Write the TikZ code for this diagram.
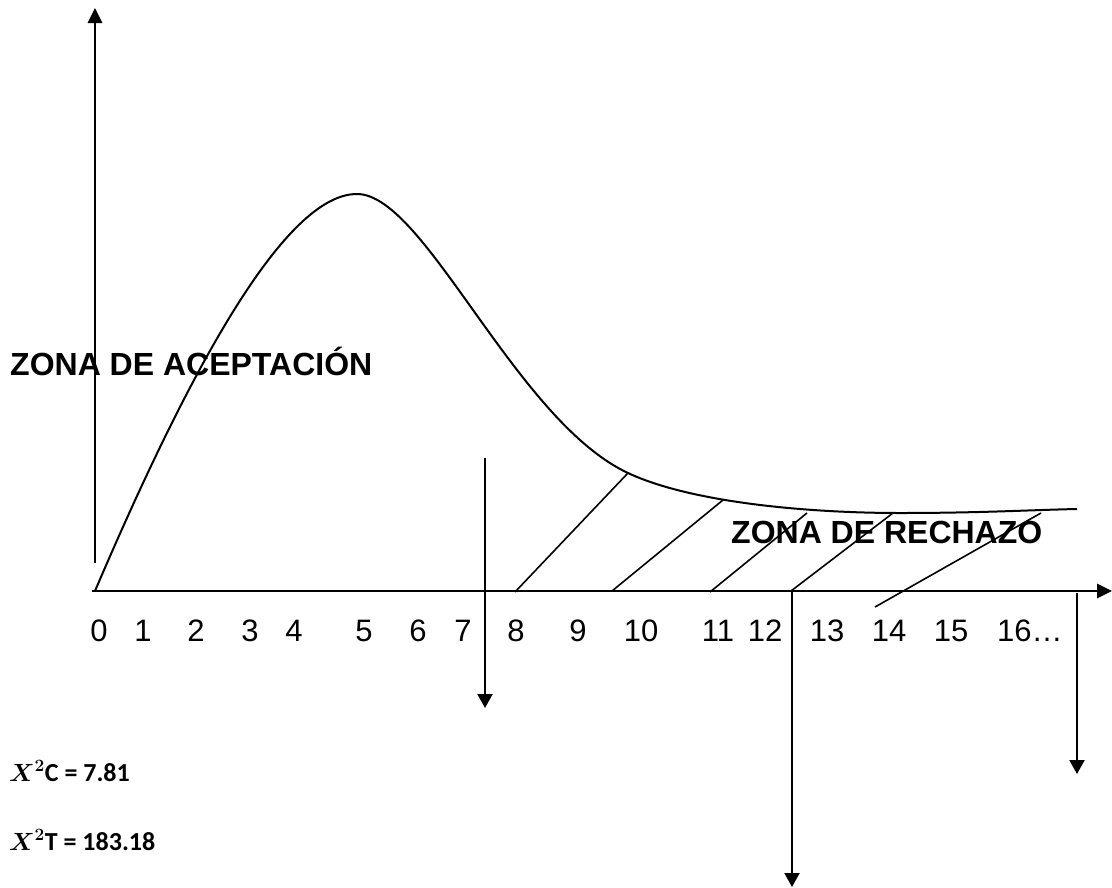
\documentclass[tikz,border=0pt]{standalone}
\usepackage{fontspec}
\setmainfont{Liberation Sans}
\newfontfamily\calfont{Carlito}
\usetikzlibrary{arrows.meta}
\tikzset{
    every node/.style={inner sep=0mm, draw=none},
    axis/.style={line width=2.7pt, -{Triangle[length=15pt, width=14pt]}},
    drop/.style={line width=2pt, -{Triangle[length=14pt, width=15pt]}},
    hatch/.style={line width=1.6pt},
    density/.style={line width=2pt},
    ticklabel/.style={anchor=base, font=\fontsize{31}{34}\selectfont},
    zona/.style={anchor=base west, font=\bfseries\fontsize{32}{36}\selectfont},
    stat/.style={anchor=base west, font=\calfont\bfseries\boldmath\fontsize{26}{30}\selectfont}
}

\begin{document}
\begin{tikzpicture}[x=1pt, y=-1pt]
    \useasboundingbox (0,0) rectangle (1112,887);

    % axes
    \coordinate (orig) at (92,591);
    \coordinate (xend) at (1112,591);
    \coordinate (ybot) at (95,563);
    \coordinate (ytop) at (95,8);
    \draw[axis] (orig) -- (xend);
    \draw[axis] (ybot) -- (ytop);

    % chi-square curve
    \coordinate (start) at (95,591);
    \coordinate (peak) at (357,194);
    \coordinate (knee) at (628,473);
    \coordinate (low) at (900,513);
    \coordinate (tail) at (1077,509);
    \draw[density] (start) .. controls (200,345) and (290,194) .. (peak)
        .. controls (425,194) and (515,420) .. (knee)
        .. controls (692,503) and (810,513) .. (low)
        .. controls (980,513) and (1030,510) .. (tail);

    % rejection zone hatching
    \foreach \i/\ax/\ay/\bx/\by in {1/515/592/628/473, 2/612/591/723/500,
        3/710/592/807/513, 4/791/591/893/513, 5/875/607/1041/513} {
        \coordinate (h\i a) at (\ax,\ay);
        \coordinate (h\i b) at (\bx,\by);
        \draw[hatch] (h\i a) -- (h\i b);
    }

    % axis labels
    \foreach \n/\x in {0/99, 1/143, 2/196, 3/250, 4/294, 5/364, 6/418, 7/463,
        8/516, 9/578, 10/641, 11/718, 12/765, 13/827, 14/889, 15/951} {
        \node (t\n) at (\x,641) [ticklabel] {\n};
    }
    \node (tdots) at (997,641) [ticklabel, anchor=base west] {16…};

    % critical and computed values
    \coordinate (crit) at (485,458);
    \coordinate (critend) at (485,708);
    \coordinate (tab) at (792,591);
    \coordinate (tabend) at (792,887);
    \coordinate (calc) at (1077,593);
    \coordinate (calcend) at (1077,774);
    \draw[drop] (crit) -- (critend);
    \draw[drop] (tab) -- (tabend);
    \draw[drop] (calc) -- (calcend);

    \node (acept) at (10,375) [zona] {ZONA DE ACEPTACIÓN};
    \node (rech) at (731,543) [zona] {ZONA DE RECHAZO};

    \node (chic) at (9,781) [stat] {$X^2$C = 7.81};
    \node (chit) at (9,850) [stat] {$X^2$T = 183.18};
\end{tikzpicture}
\end{document}
